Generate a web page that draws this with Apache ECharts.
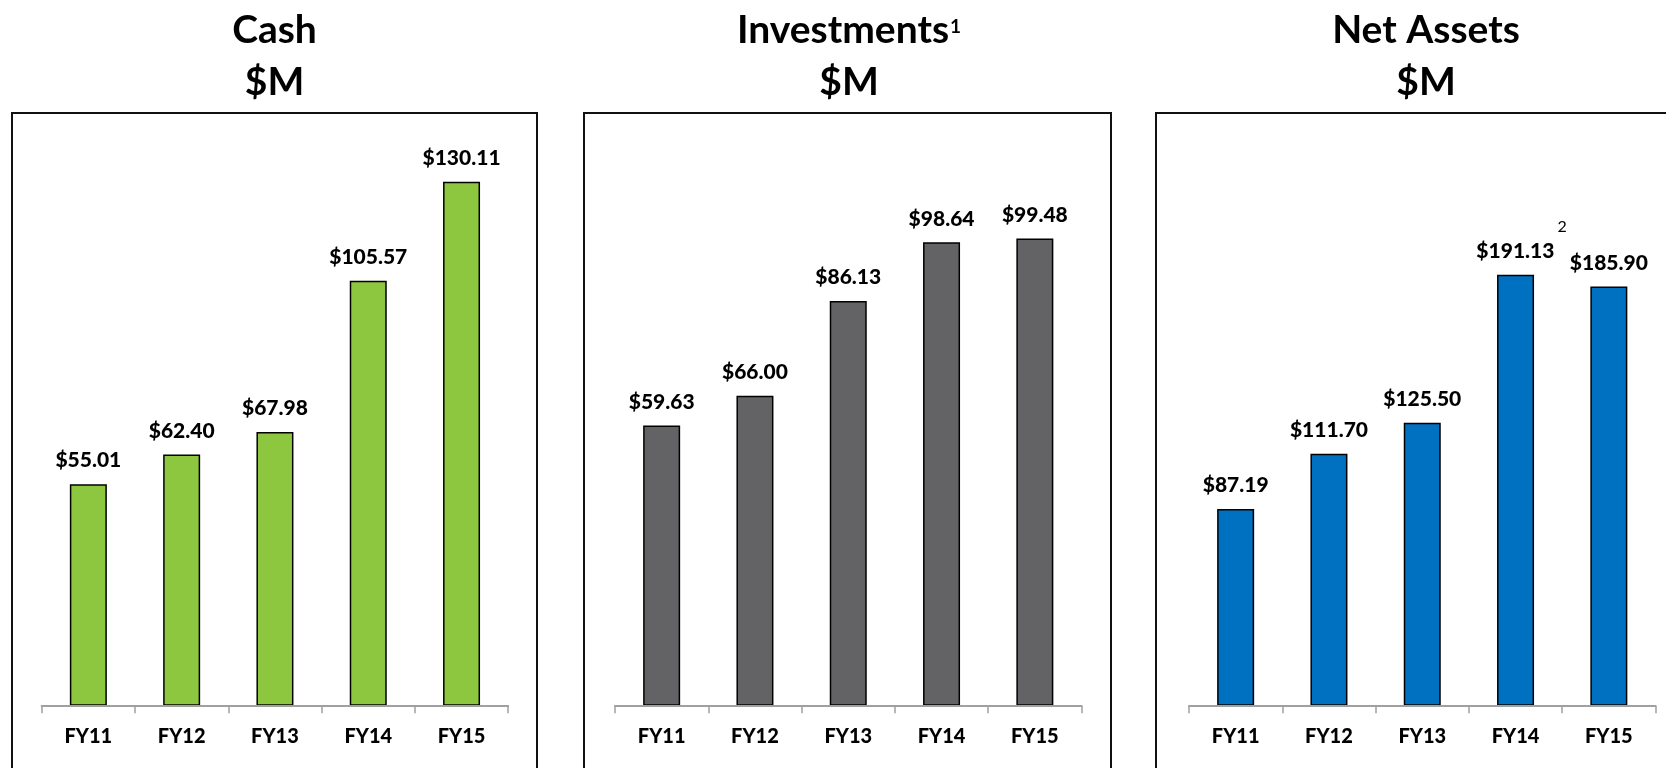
<!DOCTYPE html>
<html>
<head>
<meta charset="utf-8">
<style>
html,body{margin:0;padding:0;background:#ffffff;}
#chart{width:1666px;height:768px;}
</style>
<script src="https://cdn.jsdelivr.net/npm/echarts@6/dist/echarts.min.js"></script>
</head>
<body>
<div id="chart"></div>
<script>
// ---- data ----
const categories = ['FY11', 'FY12', 'FY13', 'FY14', 'FY15'];
const cashValues = [55.01, 62.40, 67.98, 105.57, 130.11];
const investmentValues = [59.63, 66.00, 86.13, 98.64, 99.48];
const netAssetValues = [87.19, 111.70, 125.50, 191.13, 185.90];
const cashNotes = ['', '', '', '', ''];
const investmentNotes = ['', '', '', '', ''];
const netAssetNotes = ['', '', '', '2', ''];
const panelTitles = ['Cash', 'Investments', 'Net Assets'];
const titleNotes = ['', '1', ''];
const titleUnit = '$M';
const axisMax = [140, 120, 250];

// ---- layout / style ----
const FONT = 'Lato';
const LABEL_WEIGHT = 900;
const seriesValues = [cashValues, investmentValues, netAssetValues];
const seriesNotes = [cashNotes, investmentNotes, netAssetNotes];
const barColors = ['#8DC63F', '#636366', '#0070C0'];
const panels = [
  { gridLeft: 41.7, boxLeft: 12, boxRight: 537, titleX: 274.5 },
  { gridLeft: 615, boxLeft: 584, boxRight: 1111, titleX: 849 },
  { gridLeft: 1189, boxLeft: 1156, boxRight: 1720, titleX: 1426 }
];
const gridTop = 142, gridWidth = 466.5, gridHeight = 563.7;

const chart = echarts.init(document.getElementById('chart'), null, { renderer: 'canvas' });

const titleRich = {
  a: { fontFamily: FONT, fontWeight: 'bold', fontSize: 39, lineHeight: 51.4, color: '#000', verticalAlign: 'middle' },
  s: { fontFamily: FONT, fontWeight: 'bold', fontSize: 19, lineHeight: 19, color: '#000', verticalAlign: 'middle', padding: [0, 0, 8, 1] }
};

const labelRich = {
  v: { fontFamily: FONT, fontWeight: LABEL_WEIGHT, fontSize: 21, lineHeight: 24, color: '#000', verticalAlign: 'bottom' },
  w: { fontFamily: FONT, fontWeight: LABEL_WEIGHT, fontSize: 21, lineHeight: 24, color: '#000', verticalAlign: 'bottom', padding: [0, 0, 0, 12] },
  s: { fontFamily: FONT, fontWeight: 'normal', fontSize: 16, lineHeight: 43, color: '#000', verticalAlign: 'top', padding: [0, 0, 0, 3] }
};

const option = {
  backgroundColor: '#ffffff',
  animation: false,
  title: panels.map((p, i) => ({
    text: '{a|' + panelTitles[i] + '}' + (titleNotes[i] ? '{s|' + titleNotes[i] + '}' : '') + '\n{a|' + titleUnit + '}',
    left: p.titleX,
    top: 5,
    padding: 0,
    textAlign: 'center',
    textStyle: { rich: titleRich, fontFamily: FONT, fontWeight: 'bold', fontSize: 39, color: '#000' }
  })),
  grid: panels.map(p => ({
    left: p.gridLeft, top: gridTop, width: gridWidth, height: gridHeight,
    containLabel: false, outerBoundsMode: 'none'
  })),
  xAxis: panels.map((p, i) => ({
    gridIndex: i,
    type: 'category',
    data: categories,
    z: 5,
    axisLine: { show: true, lineStyle: { color: '#a0a0a0', width: 2 } },
    axisTick: { show: true, length: 7.5, alignWithLabel: false, lineStyle: { color: '#a0a0a0', width: 1.5 } },
    axisLabel: { interval: 0, color: '#000', fontFamily: FONT, fontWeight: LABEL_WEIGHT, fontSize: 20, margin: 21 },
    splitLine: { show: false }
  })),
  yAxis: panels.map((p, i) => ({
    gridIndex: i,
    type: 'value',
    min: 0,
    max: axisMax[i],
    show: false,
    splitLine: { show: false }
  })),
  series: panels.map((p, i) => ({
    type: 'bar',
    xAxisIndex: i,
    yAxisIndex: i,
    data: seriesValues[i],
    barWidth: 37,
    itemStyle: { color: barColors[i], borderColor: '#000', borderWidth: 1.5 },
    label: {
      show: true,
      position: 'top',
      distance: 13,
      fontFamily: FONT,
      fontWeight: LABEL_WEIGHT,
      fontSize: 21,
      color: '#000',
      formatter: (prm) => {
        const txt = '$' + Number(prm.value).toFixed(2);
        const note = seriesNotes[i][prm.dataIndex];
        return note ? '{w|' + txt + '}{s|' + note + '}' : '{v|' + txt + '}';
      },
      rich: labelRich
    }
  })),
  graphic: panels.map(p => ({
    type: 'rect',
    silent: true,
    z: 10,
    shape: { x: p.boxLeft, y: 113, width: p.boxRight - p.boxLeft, height: 760 },
    style: { fill: 'none', stroke: '#111', lineWidth: 2 }
  }))
};

chart.setOption(option);
</script>
</body>
</html>
